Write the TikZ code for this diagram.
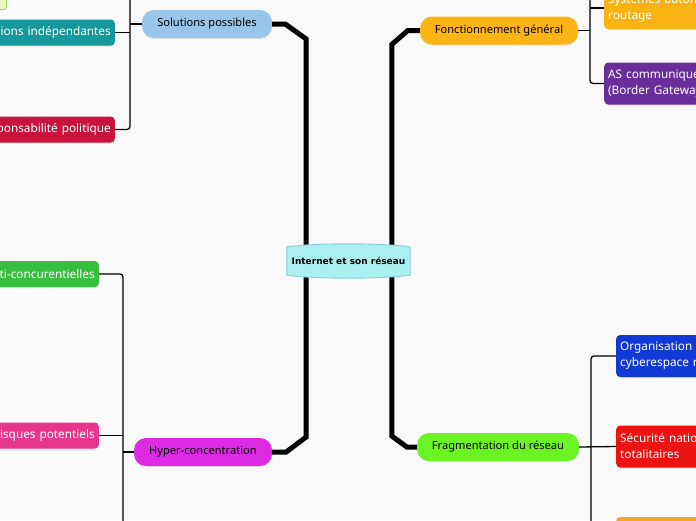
\documentclass[tikz,border=0pt]{standalone}
\usepackage{fontspec}
\setmainfont{Noto Sans}
\newfontfamily\hubfont{DejaVu Sans}
\usetikzlibrary{positioning,shadows}

\definecolor{paper}{HTML}{F9F9F9}
\definecolor{solblue}{HTML}{98C5E9}
\definecolor{fonorange}{HTML}{FDB515}
\definecolor{hypmagenta}{HTML}{DC2BE3}
\definecolor{fragreen}{HTML}{6CF325}
\definecolor{indepteal}{HTML}{16979B}
\definecolor{respored}{HTML}{C8143C}
\definecolor{antigreen}{HTML}{38BE3F}
\definecolor{riskpink}{HTML}{E6378C}
\definecolor{asorange}{HTML}{F8B313}
\definecolor{aspurple}{HTML}{6A2D9B}
\definecolor{orgblue}{HTML}{1239D3}
\definecolor{secred}{HTML}{EE1313}
\definecolor{lastorange}{HTML}{F4A62A}
\definecolor{hubfill}{HTML}{A9F0EF}
\definecolor{hubline}{HTML}{8FCBE3}
\definecolor{notefill}{HTML}{EEF7C0}
\definecolor{noteline}{HTML}{A6D45A}

\tikzset{
	topic/.style={rectangle, rounded corners=12pt, minimum height=28pt, text centered, font=\fontsize{11.1}{13}\selectfont, drop shadow={opacity=0.18, shadow xshift=0.5pt, shadow yshift=-1pt}},
	leafL/.style={rectangle, rounded corners=4pt, text=white, anchor=east, text width=170pt, align=right, minimum height=26pt, inner xsep=4pt, font=\fontsize{11.8}{16}\selectfont, drop shadow={opacity=0.18, shadow xshift=0.5pt, shadow yshift=-1pt}},
	leafR/.style={rectangle, rounded corners=4pt, text=white, anchor=west, text width=170pt, align=left, minimum height=42pt, inner xsep=4pt, font=\fontsize{11.8}{16}\selectfont, drop shadow={opacity=0.18, shadow xshift=0.5pt, shadow yshift=-1pt}},
	trunk/.style={line width=5pt, black},
	twig/.style={line width=1.3pt, black, rounded corners=3pt}
}

\begin{document}
\begin{tikzpicture}[x=1pt, y=-1pt]
	\useasboundingbox (0,0) rectangle (696,520);
	\clip (0,0) rectangle (696,520);
	\fill[paper] (0,0) rectangle (696,520);
	
	% main topics
	\node[topic, fill=solblue, minimum width=130pt] (solutions) at (207,24) {Solutions possibles};
	\node[topic, fill=fonorange, minimum width=158pt] (fonction) at (499,30.5) {Fonctionnement général};
	\node[topic, fill=hypmagenta, minimum width=138pt] (hyper) at (203,452) {Hyper-concentration};
	\node[topic, fill=fragreen, minimum width=162pt] (fragment) at (498,447) {Fragmentation du réseau};
	
	% leaves on the left
	\node[draw=noteline, fill=notefill, line width=0.8pt, rounded corners=3pt, minimum width=20pt, minimum height=20pt, anchor=south east] (note) at (7,10) {};
	\node[leafL, fill=indepteal] (indep) at (115,32.5) {ions indépendantes};
	\node[leafL, fill=respored] (respo) at (115,129.5) {Responsabilité politique};
	\node[leafL, fill=antigreen] (anti) at (99,274) {anti-concurentielles};
	\node[leafL, fill=riskpink] (risques) at (99,435.5) {Risques potentiels};
	
	% leaves on the right
	\node[leafR, fill=asorange] (systemes) at (604,8) {Systèmes autonomes\\routage};
	\node[leafR, fill=aspurple] (as) at (604,83.5) {AS communiquent\\(Border Gateway};
	\node[leafR, fill=orgblue] (organisation) at (616,356) {Organisation\\cyberespace r};
	\node[leafR, fill=secred] (securite) at (616,446.5) {Sécurité nationale\\totalitaires};
	\node[leafR, fill=lastorange] (lastleaf) at (616,538) {};
	
	\coordinate (hubL) at (306,261);
	\coordinate (hubR) at (392,261);
	\coordinate (solTop) at (130,-10);
	\coordinate (fonTop) at (590,-10);
	\coordinate (hypBot) at (123,530);
	\coordinate (fraBot) at (591,530);
	
	%trunk
	\draw[trunk] (solutions.east) -- ++(13,0) -- ++(21,15) -- (hubL);
	\draw[trunk] (hyper.east) -- ++(14,0) -- ++(20,-15) -- (hubL);
	\draw[trunk] (fonction.west) -- ++(-12,0) -- ++(-16,14) -- (hubR);
	\draw[trunk] (fragment.west) -- ++(-10,0) -- ++(-15,-11) -- (hubR);
	
	%twigs
	\draw[twig] (solTop) |- (respo.east);
	\draw[twig] (solutions.west) -- (solutions.west -| solTop);
	\draw[twig] (indep.east) -- (indep.east -| solTop);
	\draw[twig] (fonTop) |- (as.west);
	\draw[twig] (fonction.east) -- (fonction.east -| fonTop);
	\draw[twig] (systemes.west) -- (systemes.west -| fonTop);
	\draw[twig] (anti.east) -| (hypBot);
	\draw[twig] (risques.east) -- (risques.east -| hypBot);
	\draw[twig] (hyper.west) -- (hyper.west -| hypBot);
	\draw[twig] (organisation.west) -| (fraBot);
	\draw[twig] (fragment.east) -- (securite.west);
	\draw[twig] (lastleaf.west) -- (lastleaf.west -| fraBot);
	
	% central node
	\node[minimum width=123pt, minimum height=28pt] (hub) at (348.5,261) {};
	\draw[hubline, fill=hubfill, line width=0.9pt] (hub.north west) .. controls ([xshift=30pt,yshift=4pt]hub.north west) and ([xshift=-30pt,yshift=4pt]hub.north east) .. (hub.north east) -- (hub.south east) .. controls ([xshift=-30pt,yshift=-4pt]hub.south east) and ([xshift=30pt,yshift=-4pt]hub.south west) .. (hub.south west) -- cycle;
	\node[font=\hubfont\bfseries\fontsize{9}{11}\selectfont] (hubtext) at (hub) {Internet et son réseau};
\end{tikzpicture}
\end{document}
